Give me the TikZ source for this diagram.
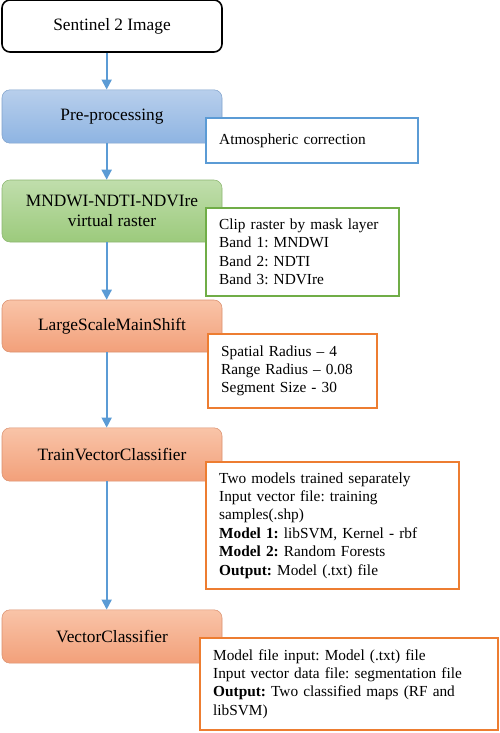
\documentclass[tikz,border=0pt]{standalone}
\usepackage{fontspec}
\setmainfont{Liberation Serif}
\frenchspacing
\usetikzlibrary{arrows.meta,positioning}

\definecolor{lineblue}{RGB}{91,155,213}
\definecolor{linegreen}{RGB}{112,173,71}
\definecolor{lineorange}{RGB}{237,125,49}
\definecolor{blueTop}{RGB}{184,207,236}
\definecolor{blueBot}{RGB}{142,180,226}
\definecolor{greenTop}{RGB}{192,222,172}
\definecolor{greenBot}{RGB}{156,202,124}
\definecolor{orangeTop}{RGB}{249,196,168}
\definecolor{orangeBot}{RGB}{242,160,122}

\tikzset{
  mainbox/.style={rounded corners=6pt, minimum width=165pt, align=center,
    font=\fontsize{13}{15.6}\selectfont, inner sep=2pt},
  sidebox/.style={draw=#1, line width=1.3pt, fill=white, anchor=north west,
    align=left, inner xsep=10pt, font=\fontsize{11.5}{13.8}\selectfont},
  flow/.style={draw=lineblue, line width=1.4pt, -{Triangle[width=7.5pt,length=7.5pt]}}
}

\begin{document}
\begin{tikzpicture}[x=0.75pt,y=-0.75pt]
\useasboundingbox (0,0) rectangle (500,733);

% main steps
\node[mainbox, draw=black, line width=1.2pt, fill=white, minimum height=39pt] (img) at (112,26) {Sentinel 2 Image};
\node[mainbox, draw=blueBot!90!black, top color=blueTop, bottom color=blueBot, minimum height=40pt] (pre) at (112,116.5) {Pre-processing};
\node[mainbox, draw=greenBot!90!black, top color=greenTop, bottom color=greenBot, minimum height=46.5pt] (ndx) at (112,211) {MNDWI-NDTI-NDVIre\\virtual raster};
\node[mainbox, draw=orangeBot!90!black, top color=orangeTop, bottom color=orangeBot, minimum height=39pt] (lsms) at (112,326) {LargeScaleMainShift};
\node[mainbox, draw=orangeBot!90!black, top color=orangeTop, bottom color=orangeBot, minimum height=40pt] (tvc) at (112,454.5) {TrainVectorClassifier};
\node[mainbox, draw=orangeBot!90!black, top color=orangeTop, bottom color=orangeBot, minimum height=40pt] (vc) at (112,636.5) {VectorClassifier};

\foreach \a/\b in {img/pre,pre/ndx,ndx/lsms,lsms/tvc,tvc/vc}
{
\draw[flow] ([xshift=-4pt]\a.south) -- ([xshift=-4pt]\b.north);
}

% parameters
\node[sidebox=lineblue, text width=139pt, minimum height=33.75pt] (atm) at (205,117) {Atmospheric correction};
\node[sidebox=linegreen, text width=124.75pt, minimum height=66pt] (clip) at (205,207) {Clip raster by mask layer\\Band 1: MNDWI\\Band 2: NDTI\\Band 3: NDVIre};
\node[sidebox=lineorange, text width=106.75pt, minimum height=55.5pt] (seg) at (207,333) {Spatial Radius -- 4\\Range Radius -- 0.08\\Segment Size - 30};
\node[sidebox=lineorange, text width=169.75pt, minimum height=95.25pt] (trn) at (205,461) {Two models trained separately\\Input vector file: training\\samples(.shp)\\\textbf{Model 1:} libSVM, Kernel - rbf\\\textbf{Model 2:} Random Forests\\\textbf{Output:} Model (.txt) file};
\node[sidebox=lineorange, text width=203.5pt, minimum height=69pt] (cls) at (199,637) {Model file input: Model (.txt) file\\Input vector data file: segmentation file\\\textbf{Output:} Two classified maps (RF and\\libSVM)};

\end{tikzpicture}
\end{document}
